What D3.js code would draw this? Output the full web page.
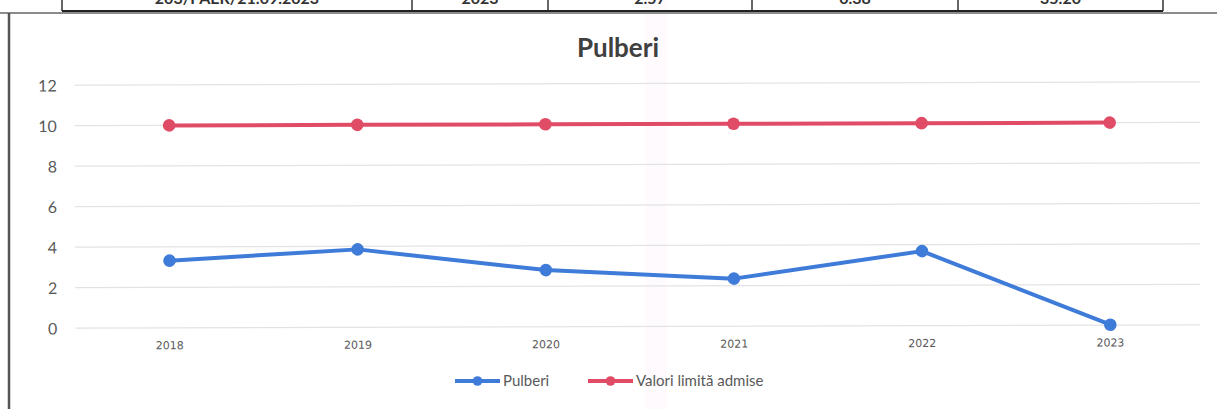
<!DOCTYPE html>
<html><head><meta charset="utf-8">
<script src="https://cdn.jsdelivr.net/npm/d3@7"></script>
<style>html,body{margin:0;padding:0;background:#fff;}svg{display:block;}</style>
</head><body>
<svg id="c" width="1217" height="409"></svg>
<script>
const years = ["2018","2019","2020","2021","2022","2023"];
const pulberi = [3.32, 3.85, 2.8, 2.35, 3.68, 0.02];
const limita = [10, 10, 10, 10, 10, 10];
const yTicks = [0, 2, 4, 6, 8, 10, 12];
const seriesNames = ["Pulberi", "Valori limită admise"];
const tableCells = ["203/PAER/21.09.2023", "2023", "2.57", "0.38", "35.20"];
const tableEdges = [62, 412, 548, 752, 958, 1163];

const svg = d3.select("#c");
const font = "Lato, 'Open Sans', sans-serif";

// faint scan tint
svg.append("rect").attr("x", 645).attr("y", 0).attr("width", 22).attr("height", 409)
  .attr("fill", "rgba(245,215,238,0.13)");

// top table remnant (cut off by the page edge, as in the scan)
const tbl = svg.append("g");
tableCells.forEach((t, i) => {
  tbl.append("text").attr("x", (tableEdges[i] + tableEdges[i+1]) / 2).attr("y", 4)
    .attr("text-anchor", "middle").attr("font-family", font).attr("font-weight", "bold")
    .attr("font-size", 16).attr("fill", "#333").text(t);
});
tableEdges.forEach(x => {
  tbl.append("line").attr("x1", x).attr("x2", x).attr("y1", 0).attr("y2", 11)
    .attr("stroke", "#333").attr("stroke-width", 1.5);
});
tbl.append("line").attr("x1", 62).attr("x2", 1163).attr("y1", 11).attr("y2", 11)
  .attr("stroke", "#222").attr("stroke-width", 2);

// chart box
svg.append("line").attr("x1", 0).attr("x2", 1217).attr("y1", 13).attr("y2", 13)
  .attr("stroke", "#666").attr("stroke-width", 1.5);
svg.append("line").attr("x1", 9).attr("x2", 9).attr("y1", 13).attr("y2", 409)
  .attr("stroke", "#555").attr("stroke-width", 2.5);

const g = svg.append("g").attr("transform", "rotate(-0.17 640 200)");

const x = d3.scaleBand().domain(years).range([75.3, 1204]);
const y = d3.scaleLinear().domain([0, 12]).range([326.5, 83.5]);
const cx = d => x(d) + x.bandwidth() / 2;

// gridlines
g.append("g").selectAll("line").data(yTicks).join("line")
  .attr("x1", 75).attr("x2", 1200).attr("y1", d => y(d)).attr("y2", d => y(d))
  .attr("stroke", "#e3e3e3").attr("stroke-width", 1.2);

// y axis labels
const yAxis = d3.axisLeft(y).tickValues(yTicks).tickSize(0).tickPadding(0);
const ya = g.append("g").attr("transform", "translate(57,0)").call(yAxis);
ya.select(".domain").remove();
ya.selectAll("text").attr("font-family", font).attr("font-size", 16).attr("fill", "#595959").attr("dy", "0.36em");

// x axis labels
const xAxis = d3.axisBottom(x).tickSize(0).tickPadding(0);
const xa = g.append("g").attr("transform", "translate(0,340)").call(xAxis);
xa.select(".domain").remove();
xa.selectAll("text").attr("font-family", "'DejaVu Sans', sans-serif").attr("font-size", 11)
  .attr("fill", "#595959").attr("dy", "0.72em");

// title
svg.append("text").attr("x", 618).attr("y", 57).attr("text-anchor", "middle")
  .attr("font-family", font).attr("font-weight", "bold").attr("font-size", 26)
  .attr("fill", "#404040").text("Pulberi");

const colors = ["#3f7bd8", "#e04c66"];
const data = [pulberi, limita];
const line = d3.line().x((d, i) => cx(years[i])).y(d => y(d));

data.forEach((vals, k) => {
  g.append("path").datum(vals).attr("d", line).attr("fill", "none")
    .attr("stroke", colors[k]).attr("stroke-width", 4).attr("stroke-linejoin", "round");
  g.append("g").selectAll("circle").data(vals).join("circle")
    .attr("cx", (d, i) => cx(years[i])).attr("cy", d => y(d)).attr("r", 6.3)
    .attr("fill", colors[k]);
});

// legend
const legX = [455, 588];
seriesNames.forEach((n, k) => {
  const lg = svg.append("g").attr("transform", `translate(${legX[k]},381)`);
  lg.append("line").attr("x1", 0).attr("x2", 45).attr("y1", 0).attr("y2", 0)
    .attr("stroke", colors[k]).attr("stroke-width", 4);
  lg.append("circle").attr("cx", 22.5).attr("cy", 0).attr("r", 4.8).attr("fill", colors[k]);
  lg.append("text").attr("x", 48).attr("y", 0).attr("dy", "0.35em")
    .attr("font-family", font).attr("font-size", 15).attr("fill", "#595959").text(n);
});
</script>
</body></html>
